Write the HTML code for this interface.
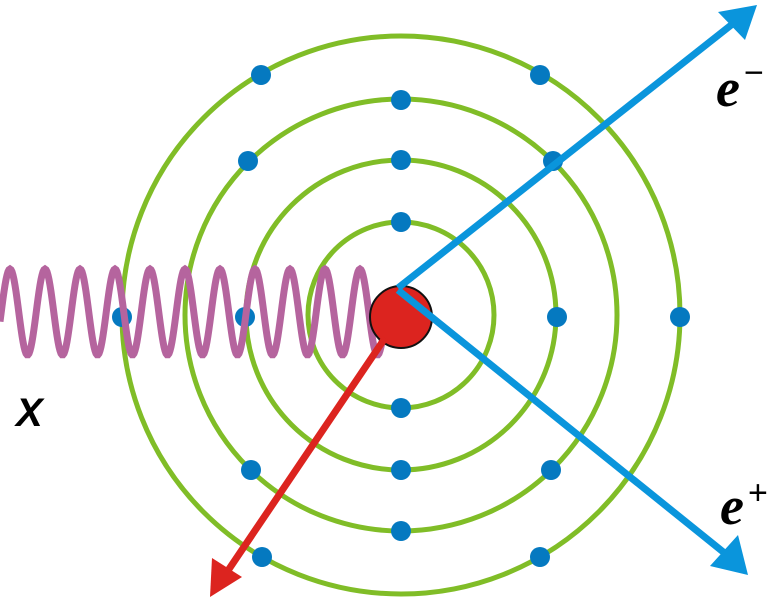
<!DOCTYPE html>
<html><head><meta charset="utf-8"><style>body{margin:0;background:#fff}svg{display:block}</style></head>
<body>
<svg width="777" height="600" viewBox="0 0 777 600" xmlns="http://www.w3.org/2000/svg">
<g fill="none" stroke="#80bd27" stroke-width="5">
<circle cx="401" cy="315" r="93"/>
<circle cx="401" cy="315" r="155"/>
<circle cx="401" cy="315" r="216"/>
<circle cx="401" cy="315" r="279"/>
</g>
<g fill="#0579c0">
<ellipse cx="401" cy="222" rx="10" ry="10"/>
<ellipse cx="401" cy="408" rx="10" ry="10"/>
<ellipse cx="401" cy="160" rx="10" ry="10"/>
<ellipse cx="401" cy="470" rx="10" ry="10"/>
<ellipse cx="401" cy="100" rx="10" ry="10"/>
<ellipse cx="401" cy="531" rx="10" ry="10"/>
<ellipse cx="557" cy="317" rx="10" ry="10"/>
<ellipse cx="245" cy="317" rx="10" ry="10"/>
<ellipse cx="680" cy="317" rx="10" ry="10"/>
<ellipse cx="122" cy="317" rx="10" ry="10"/>
<ellipse cx="248" cy="161" rx="10" ry="10"/>
<ellipse cx="553" cy="161" rx="10" ry="10"/>
<ellipse cx="251" cy="470" rx="10" ry="10"/>
<ellipse cx="551" cy="470" rx="10" ry="10"/>
<ellipse cx="261" cy="75" rx="10" ry="10"/>
<ellipse cx="540" cy="75" rx="10" ry="10"/>
<ellipse cx="262" cy="557" rx="10" ry="10"/>
<ellipse cx="540" cy="557" rx="10" ry="10"/>
</g>
<path id="wave" fill="none" stroke="#b5649e" stroke-width="7" d=""/>
<circle cx="401" cy="317" r="31" fill="#dc241f" stroke="#111" stroke-width="2"/>
<g stroke="#0a95dc" stroke-width="7">
<line x1="398" y1="288" x2="735" y2="22"/>
<line x1="398" y1="290" x2="727" y2="555"/>
</g>
<polygon points="757,5 745,40 718,12" fill="#0a95dc"/>
<polygon points="748,575 710,566 738,535" fill="#0a95dc"/>
<line x1="385" y1="338" x2="225" y2="575" stroke="#dc241f" stroke-width="7"/>
<polygon points="210,597 212,558 242,577" fill="#dc241f"/>
<text x="716" y="106" font-family="Liberation Serif, serif" font-style="italic" font-weight="bold" font-size="54">e</text>
<text x="744" y="84" font-family="Liberation Sans, sans-serif" font-size="34">−</text>
<text x="720" y="524" font-family="Liberation Serif, serif" font-style="italic" font-weight="bold" font-size="54">e</text>
<text x="748" y="504" font-family="Liberation Sans, sans-serif" font-size="34">+</text>
<text x="16" y="426" font-family="Liberation Sans, sans-serif" font-style="italic" font-weight="bold" font-size="40">X</text>
<script>
var d="";for(var x=0;x<=383;x+=1){var y=312-43*Math.cos(2*Math.PI*(x-10)/35);d+=(x?"L":"M")+x+" "+y.toFixed(1);}
document.getElementById("wave").setAttribute("d",d);
</script>
</svg>
</body></html>
